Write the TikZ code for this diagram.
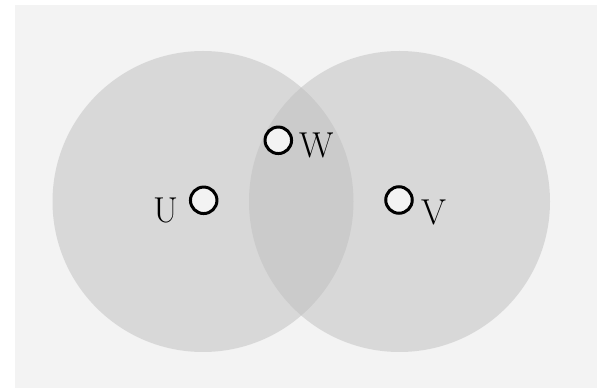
\documentclass[tikz,border=0pt]{standalone}
\usepackage{xcolor}
\usepackage{tikz}
\usetikzlibrary{positioning}
\definecolor{vennbg}{RGB}{243,243,243}
\definecolor{vennfill}{RGB}{191,191,191}

\begin{document}
\begin{tikzpicture}[x=1pt,y=1pt]
    \tikzset{set/.style={fill=vennfill,fill opacity=0.5},
      pt/.style={circle,draw=black,line width=3pt,fill=vennbg,minimum size=26.5pt,inner sep=0pt},
      lbl/.style={inner sep=0pt,font=\fontsize{36}{40}\selectfont}}
    \useasboundingbox (0,0) rectangle (597,388);
    \fill[vennbg] (15,0) rectangle (597,383);
    \foreach \cx in {203,399.5}{ \fill[set] (\cx,186.5) circle (150.5); }
    \node[pt] (u) at (203.7,187.7) {};
    \node[pt] (w) at (278.3,247.7) {};
    \node[pt] (v) at (399,188) {};
    \node[lbl,left=10pt of u,yshift=-10pt] (ulab) {U};
    \node[lbl,right=6pt of w,yshift=-5pt] (wlab) {W};
    \node[lbl,right=8pt of v,yshift=-12pt] (vlab) {V};
  \end{tikzpicture}
\end{document}
